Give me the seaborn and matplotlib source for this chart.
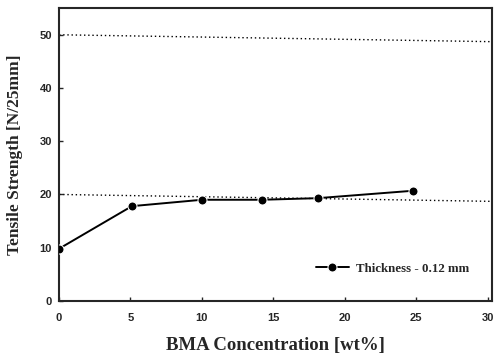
import matplotlib
matplotlib.use("Agg")
import matplotlib.pyplot as plt
import seaborn as sns
import pandas as pd

bma = [0, 5.1, 10, 14.2, 18.1, 24.8]
strength = [9.8, 17.8, 19.0, 19.0, 19.3, 20.7]
series_label = "Thickness - 0.12 mm"
ref_left = [50, 20]
ref_right = [48.7, 18.7]
xticks = [0, 5, 10, 15, 20, 25, 30]
yticks = [0, 10, 20, 30, 40, 50]

sns.set_style("ticks")
plt.rcParams['font.family'] = ['Liberation Serif', 'DejaVu Serif']
plt.rcParams['font.weight'] = 'bold'

fig = plt.figure(figsize=(4.98, 3.54), dpi=100)
ax = fig.add_axes([0.1185, 0.150, 0.8695, 0.827])

for l, r in zip(ref_left, ref_right):
    ax.plot([0, 30.3], [l, r], linestyle=(0, (1, 2)), color='black', linewidth=1.0, zorder=1)

df = pd.DataFrame({"x": bma, "y": strength, "s": series_label})
sns.lineplot(data=df, x="x", y="y", hue="s", palette=["black"], marker="o",
             markersize=6.5, linewidth=1.4, ax=ax, zorder=3)

ax.set_xlim(0, 30.3)
ax.set_ylim(0, 55)
ax.set_xticks(xticks)
ax.set_yticks(yticks)
ax.tick_params(direction='in', length=3, width=1)
ax.tick_params(axis='x', pad=9)
ax.tick_params(axis='y', pad=5)
for lab in ax.get_xticklabels() + ax.get_yticklabels():
    lab.set_fontweight('bold')
    lab.set_fontfamily(['Liberation Sans', 'DejaVu Sans'])
    lab.set_fontsize(8)
for s in ax.spines.values():
    s.set_linewidth(1.5)
    s.set_visible(True)

ax.set_xlabel("BMA Concentration [wt%]", fontsize=13.5, fontweight='bold', labelpad=10)
ax.set_ylabel("Tensile Strength [N/25mm]", fontsize=12.5, fontweight='bold', labelpad=12)

leg = ax.legend(loc='lower right', bbox_to_anchor=(0.975, 0.05), frameon=False,
                prop={'size': 9.3, 'weight': 'bold'}, handlelength=2.5, handletextpad=0.6)
for h in leg.get_lines():
    h.set_linewidth(1.4)

fig.savefig("out.png", dpi=100)
